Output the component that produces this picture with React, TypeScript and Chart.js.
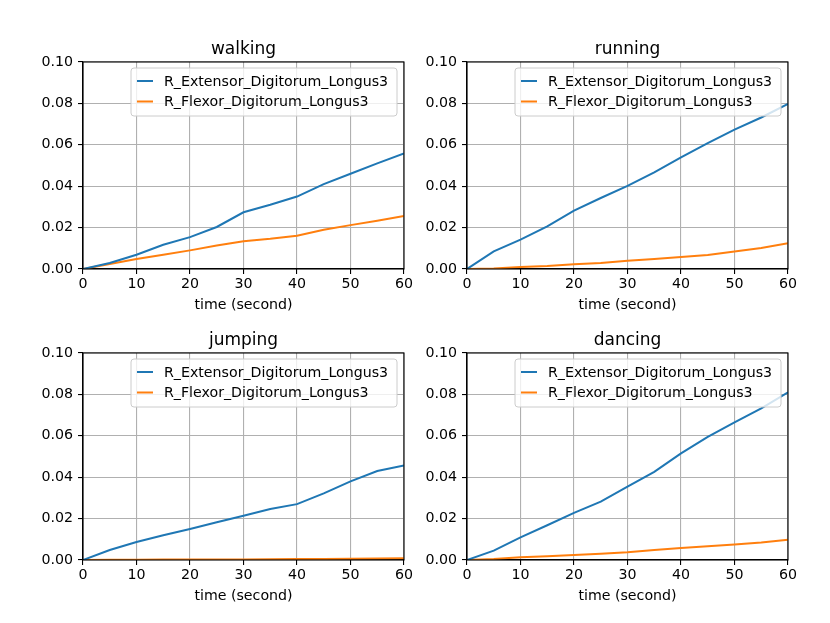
import React, { useEffect, useRef } from "react";
import { Chart, registerables } from "chart.js";

Chart.register(...registerables);

// values (x = seconds, y = cumulative value)
const timeSeconds = [0, 5, 10, 15, 20, 25, 30, 35, 40, 45, 50, 55, 60];

const walkingExtensor = [0, 0.0029, 0.0069, 0.0117, 0.0154, 0.0203, 0.0274, 0.031, 0.035, 0.041, 0.046, 0.051, 0.0558];
const walkingFlexor = [0, 0.0024, 0.0048, 0.0069, 0.009, 0.0113, 0.0134, 0.0146, 0.0161, 0.019, 0.0212, 0.0233, 0.0256];

const runningExtensor = [0, 0.0085, 0.0142, 0.0206, 0.0282, 0.0343, 0.0402, 0.0467, 0.0539, 0.0608, 0.0673, 0.0732, 0.0798];
const runningFlexor = [0, 0.0003, 0.001, 0.0015, 0.0023, 0.0029, 0.004, 0.0048, 0.0058, 0.0068, 0.0084, 0.0101, 0.0124];

const jumpingExtensor = [0, 0.0048, 0.0087, 0.012, 0.015, 0.0182, 0.0214, 0.0246, 0.027, 0.0322, 0.038, 0.043, 0.0457];
const jumpingFlexor = [0, 0.0001, 0.0001, 0.0002, 0.0002, 0.0003, 0.0003, 0.0004, 0.0005, 0.0005, 0.0006, 0.0007, 0.0008];

const dancingExtensor = [0, 0.0045, 0.0109, 0.0168, 0.0228, 0.0282, 0.0354, 0.0426, 0.0515, 0.0595, 0.0665, 0.0732, 0.081];
const dancingFlexor = [0, 0.0005, 0.0013, 0.0018, 0.0024, 0.003, 0.0037, 0.0048, 0.0058, 0.0066, 0.0075, 0.0085, 0.0098];

const seriesNames = ["R_Extensor_Digitorum_Longus3", "R_Flexor_Digitorum_Longus3"];
const xTicks = [0, 10, 20, 30, 40, 50, 60];
const yTicks = [0, 0.02, 0.04, 0.06, 0.08, 0.1];
const xLabel = "time (second)";

const FONT = '"DejaVu Sans", sans-serif';
const TEXT_SIZE = 14.2;
const TITLE_SIZE = 17;
const BLUE = "#1f77b4";
const ORANGE = "#ff7f0e";

// margins around the plot area inside each canvas
const PAD_L = 60;
const PAD_T = 40;
const PAD_R = 20;
const PAD_B = 50;

const panelDecor = {
  id: "panelDecor",
  afterDraw(chart: any, _args: any, opts: any) {
    const { ctx, chartArea: a } = chart;
    ctx.save();
    // full box
    ctx.strokeStyle = "#000";
    ctx.lineWidth = 1.1;
    ctx.strokeRect(a.left, a.top, a.right - a.left, a.bottom - a.top);

    const cx = (a.left + a.right) / 2;
    ctx.fillStyle = "#000";
    ctx.textAlign = "center";
    ctx.textBaseline = "alphabetic";
    ctx.font = `${TITLE_SIZE}px ${FONT}`;
    ctx.fillText(opts.title, cx, a.top - 8);
    ctx.font = `${TEXT_SIZE}px ${FONT}`;
    ctx.fillText(xLabel, cx, a.bottom + 40);

    // legend, upper right
    const lw = 266;
    const lh = 48;
    const lx = a.right - 7 - lw;
    const ly = a.top + 6;
    ctx.beginPath();
    ctx.roundRect(lx, ly, lw, lh, 3);
    ctx.fillStyle = "rgba(255,255,255,0.8)";
    ctx.fill();
    ctx.strokeStyle = "#cccccc";
    ctx.lineWidth = 1;
    ctx.stroke();

    ctx.textAlign = "left";
    ctx.textBaseline = "middle";
    chart.data.datasets.forEach((ds: any, i: number) => {
      const y = ly + 13 + i * 20.5;
      ctx.strokeStyle = ds.borderColor;
      ctx.lineWidth = 2;
      ctx.beginPath();
      ctx.moveTo(lx + 6, y);
      ctx.lineTo(lx + 22, y);
      ctx.stroke();
      ctx.fillStyle = "#000";
      ctx.fillText(ds.label, lx + 33, y + 1);
    });
    ctx.restore();
  },
};

interface PanelProps {
  title: string;
  extensor: number[];
  flexor: number[];
  left: number;
  top: number;
  width: number;
  height: number;
}

const Panel: React.FC<PanelProps> = ({ title, extensor, flexor, left, top, width, height }) => {
  const canvasRef = useRef<HTMLCanvasElement>(null);

  const w = width + PAD_L + PAD_R;
  const h = height + PAD_T + PAD_B;

  useEffect(() => {
    if (!canvasRef.current) return;
    const toPoints = (vals: number[]) => vals.map((v, i) => ({ x: timeSeconds[i], y: v }));

    const chart = new Chart(canvasRef.current, {
      type: "line",
      data: {
        datasets: [
          {
            label: seriesNames[0],
            data: toPoints(extensor),
            borderColor: BLUE,
            borderWidth: 2,
            pointRadius: 0,
            tension: 0,
          },
          {
            label: seriesNames[1],
            data: toPoints(flexor),
            borderColor: ORANGE,
            borderWidth: 2,
            pointRadius: 0,
            tension: 0,
          },
        ],
      },
      plugins: [panelDecor],
      options: {
        responsive: false,
        animation: false,
        layout: { padding: { left: 0, top: PAD_T, right: PAD_R, bottom: 0 } },
        plugins: {
          legend: { display: false },
          tooltip: { enabled: false },
          panelDecor: { title },
        } as any,
        scales: {
          x: {
            type: "linear",
            min: 0,
            max: 60,
            afterFit: (s: any) => {
              s.height = PAD_B;
            },
            afterBuildTicks: (s: any) => {
              s.ticks = xTicks.map((v) => ({ value: v }));
            },
            ticks: {
              color: "#000",
              font: { family: FONT, size: TEXT_SIZE },
              padding: 2,
              maxRotation: 0,
            },
            grid: { color: "#b0b0b0", lineWidth: 1.1, tickColor: "#000", tickLength: 5 },
            border: { display: true, color: "#000", width: 1.1 },
          },
          y: {
            type: "linear",
            min: 0,
            max: 0.1,
            afterFit: (s: any) => {
              s.width = PAD_L;
            },
            afterBuildTicks: (s: any) => {
              s.ticks = yTicks.map((v) => ({ value: v }));
            },
            ticks: {
              color: "#000",
              font: { family: FONT, size: TEXT_SIZE },
              padding: 5,
              callback: (v: any) => Number(v).toFixed(2),
            },
            grid: { color: "#b0b0b0", lineWidth: 1.1, tickColor: "#000", tickLength: 5 },
            border: { display: true, color: "#000", width: 1.1 },
          },
        },
      },
    });

    return () => {
      chart.destroy();
    };
  }, [title, extensor, flexor]);

  return (
    <canvas
      ref={canvasRef}
      width={w}
      height={h}
      style={{ position: "absolute", left: left - PAD_L, top: top - PAD_T, width: w, height: h }}
    />
  );
};

const App: React.FC = () => {
  const aw = 321;
  const ah = 207;
  return (
    <div style={{ position: "absolute", left: 0, top: 0, width: 830, height: 623, background: "#fff" }}>
      <Panel title="walking" extensor={walkingExtensor} flexor={walkingFlexor} left={83} top={62} width={aw} height={ah} />
      <Panel title="running" extensor={runningExtensor} flexor={runningFlexor} left={467} top={62} width={aw} height={ah} />
      <Panel title="jumping" extensor={jumpingExtensor} flexor={jumpingFlexor} left={83} top={353} width={aw} height={ah} />
      <Panel title="dancing" extensor={dancingExtensor} flexor={dancingFlexor} left={467} top={353} width={aw} height={ah} />
    </div>
  );
};

export default App;
